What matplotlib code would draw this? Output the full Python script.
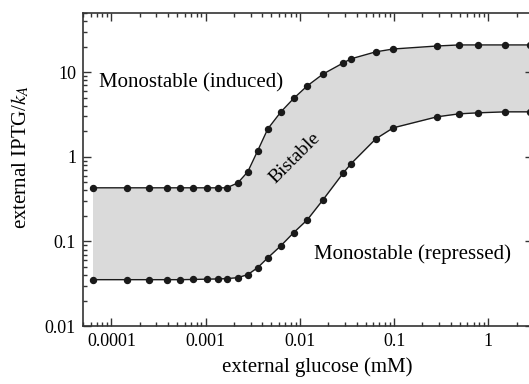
import matplotlib
matplotlib.use("Agg")
import matplotlib.pyplot as plt
import matplotlib.ticker as ticker

# ---------------------------------------------------------------------------
# Data
# ---------------------------------------------------------------------------
glucose = [6.3e-5, 1.48e-4, 2.5e-4, 3.9e-4, 5.3e-4, 7.4e-4, 1.03e-3, 1.34e-3,
           1.67e-3, 2.19e-3, 2.8e-3, 3.57e-3, 4.57e-3, 6.3e-3, 8.6e-3, 1.2e-2,
           1.76e-2, 2.9e-2, 3.5e-2, 6.4e-2, 0.098, 0.286, 0.49, 0.78, 1.52, 2.75]

iptg_upper = [0.43, 0.43, 0.43, 0.43, 0.43, 0.43, 0.43, 0.43,
              0.43, 0.49, 0.665, 1.18, 2.14, 3.4, 4.9, 6.9,
              9.5, 12.9, 14.4, 17.4, 18.8, 20.4, 21.0, 21.0, 21.0, 21.0]

iptg_lower = [0.0353, 0.0353, 0.0353, 0.0353, 0.0353, 0.0355, 0.0358, 0.036,
              0.0363, 0.0373, 0.0405, 0.049, 0.064, 0.089, 0.127, 0.18,
              0.31, 0.647, 0.83, 1.63, 2.2, 2.97, 3.22, 3.31, 3.4, 3.4]

x_ticks = [1e-4, 1e-3, 1e-2, 1e-1, 1]
x_labels = ["0.0001", "0.001", "0.01", "0.1", "1"]
y_ticks = [0.01, 0.1, 1, 10]
y_labels = ["0.01", "0.1", "1", "10"]

# ---------------------------------------------------------------------------
# Style
# ---------------------------------------------------------------------------
plt.rcParams["font.family"] = ["Liberation Serif", "DejaVu Serif"]
plt.rcParams["mathtext.fontset"] = "stix"

LINE = "#1a1a1a"
FILL = "#dadada"
AXIS = "#333333"

fig = plt.figure(figsize=(5.29, 3.84), dpi=100)
ax = fig.add_axes([0.157, 0.151, 0.851, 0.815])

ax.fill_between(glucose, iptg_lower, iptg_upper, color=FILL, lw=0, zorder=1)
ax.plot(glucose, iptg_upper, "-o", color=LINE, lw=1.0, ms=4.3, zorder=3,
        clip_on=False)
ax.plot(glucose, iptg_lower, "-o", color=LINE, lw=1.0, ms=4.3, zorder=3,
        clip_on=False)

ax.set_xscale("log")
ax.set_yscale("log")
ax.set_xlim(5e-5, 3)
ax.set_ylim(0.01, 50)

# log minor ticks: 2..9 within every decade shown
x_minor = [m * 10.0 ** e for e in range(-5, 1) for m in range(2, 10)]
y_minor = [m * 10.0 ** e for e in range(-2, 2) for m in range(2, 10)]

ax.xaxis.set_major_locator(ticker.FixedLocator(x_ticks))
ax.xaxis.set_major_formatter(ticker.FixedFormatter(x_labels))
ax.yaxis.set_major_locator(ticker.FixedLocator(y_ticks))
ax.yaxis.set_major_formatter(ticker.FixedFormatter(y_labels))
ax.xaxis.set_minor_locator(ticker.FixedLocator(x_minor))
ax.yaxis.set_minor_locator(ticker.FixedLocator(y_minor))
ax.xaxis.set_minor_formatter(ticker.NullFormatter())
ax.yaxis.set_minor_formatter(ticker.NullFormatter())

ax.tick_params(which="both", direction="in", top=True, right=True,
               colors=AXIS, labelcolor="black", labelsize=13, width=1.0)
ax.tick_params(which="major", length=6, pad=5)
ax.tick_params(which="minor", length=3)
for spine in ax.spines.values():
    spine.set_color(AXIS)
    spine.set_linewidth(1.2)

ax.set_xlabel("external glucose (mM)", fontsize=15)
ax.set_ylabel("external IPTG/$k_A$", fontsize=15)
ax.xaxis.set_label_coords(0.52, -0.10)
ax.yaxis.set_label_coords(-0.115, 0.54)

ax.text(7.45e-5, 7.5, "Monostable (induced)", fontsize=15, va="center", ha="left")
ax.text(1.41e-2, 0.07, "Monostable (repressed)", fontsize=15, va="center", ha="left")
ax.text(8.8e-3, 0.97, "Bistable", fontsize=14, va="center", ha="center",
        rotation=45)

fig.savefig("out.png", dpi=100)
